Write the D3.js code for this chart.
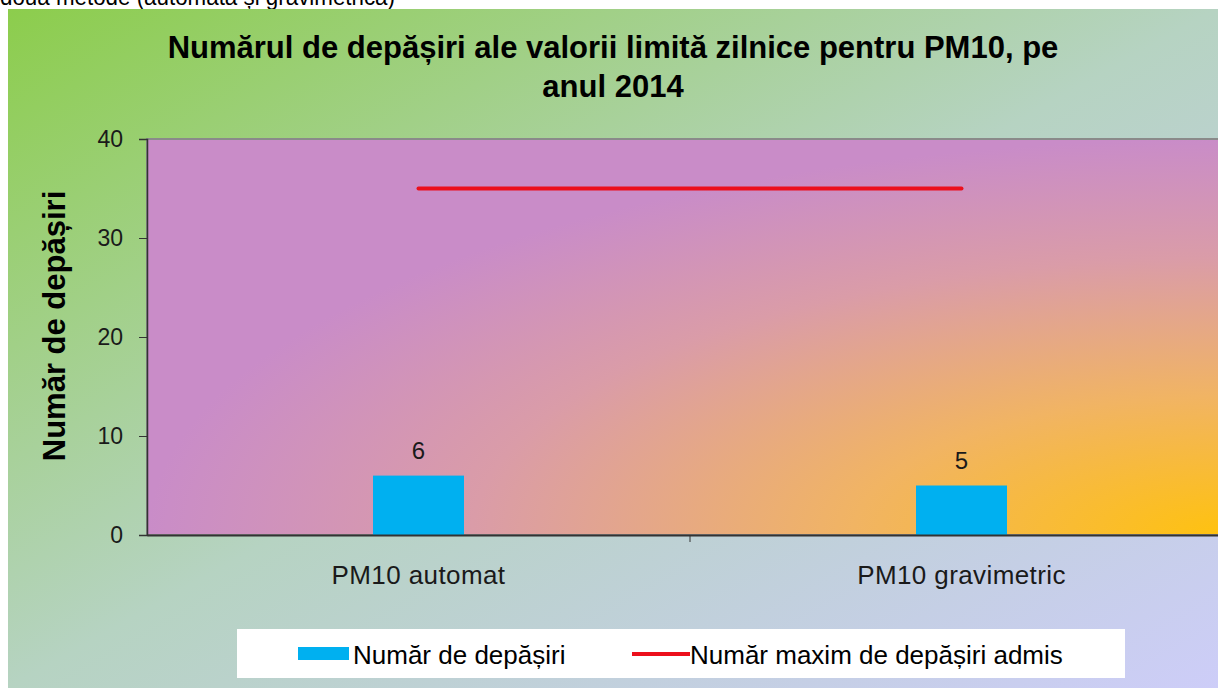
<!DOCTYPE html>
<html>
<head>
<meta charset="utf-8">
<script src="https://cdn.jsdelivr.net/npm/d3@7"></script>
<style>
  body { margin: 0; background: #fff; }
  svg { display: block; font-family: "Liberation Sans", Arial, sans-serif; }
</style>
</head>
<body>
<svg id="chart" width="1218" height="688"></svg>
<script>
// data
var categories = ["PM10 automat", "PM10 gravimetric"];
var exceedances = [6, 5];
var maxAllowed = [35, 35];
var yTicks = [0, 10, 20, 30, 40];

var svg = d3.select("#chart"),
    width = +svg.attr("width"),
    height = +svg.attr("height");

var margin = {top: 139, left: 147, bottom: 535, right: 1233};
var font = "Liberation Sans, Arial, sans-serif";

var defs = svg.append("defs");

var bgGrad = defs.append("linearGradient")
    .attr("id", "bgGrad")
    .attr("x1", 0).attr("y1", 0).attr("x2", 1).attr("y2", 1);
bgGrad.append("stop").attr("offset", 0).attr("stop-color", "#8ccd4c");
bgGrad.append("stop").attr("offset", 0.5).attr("stop-color", "#b6d3c2");
bgGrad.append("stop").attr("offset", 1).attr("stop-color", "#cdcdf8");

var plotGrad = defs.append("radialGradient")
    .attr("id", "plotGrad")
    .attr("cx", 1).attr("cy", 1).attr("r", 1)
    .attr("fx", 1).attr("fy", 1);
plotGrad.append("stop").attr("offset", 0).attr("stop-color", "#ffc20e");
plotGrad.append("stop").attr("offset", 0.35).attr("stop-color", "#f1b463");
plotGrad.append("stop").attr("offset", 0.7).attr("stop-color", "#da9ca8");
plotGrad.append("stop").attr("offset", 1).attr("stop-color", "#c98cc8");

// cropped caption from the document above the chart
svg.append("text")
    .attr("x", 0)
    .attr("y", 5)
    .attr("font-size", 24)
    .attr("fill", "#000")
    .attr("textLength", 395)
    .attr("lengthAdjust", "spacingAndGlyphs")
    .text("două metode  (automată și gravimetrică)");

// chart background
svg.append("rect")
    .attr("x", 8).attr("y", 9)
    .attr("width", width - 8).attr("height", height - 9)
    .attr("fill", "url(#bgGrad)");

var x = d3.scaleBand()
    .domain(categories)
    .range([margin.left, margin.right]);

var y = d3.scaleLinear()
    .domain([0, 40])
    .range([margin.bottom, margin.top]);

// plot area
svg.append("rect")
    .attr("x", margin.left).attr("y", margin.top)
    .attr("width", margin.right - margin.left)
    .attr("height", margin.bottom - margin.top)
    .attr("fill", "url(#plotGrad)")
    .attr("stroke", "#8a8a8a")
    .attr("stroke-width", 2);

// bars
var barW = 91;
svg.append("g")
    .selectAll("rect")
    .data(exceedances)
    .enter().append("rect")
    .attr("x", function(d, i) { return x(categories[i]) + x.bandwidth() / 2 - barW / 2; })
    .attr("y", function(d) { return y(d); })
    .attr("width", barW)
    .attr("height", function(d) { return y(0) - y(d); })
    .attr("fill", "#00b0f0");

// value labels
svg.append("g")
    .selectAll("text")
    .data(exceedances)
    .enter().append("text")
    .attr("x", function(d, i) { return x(categories[i]) + x.bandwidth() / 2; })
    .attr("y", function(d) { return y(d) - 17; })
    .attr("text-anchor", "middle")
    .attr("font-size", 24)
    .attr("fill", "#1a1a1a")
    .text(function(d) { return d; });

// max allowed line
var line = d3.line()
    .x(function(d, i) { return x(categories[i]) + x.bandwidth() / 2; })
    .y(function(d) { return y(d); });

svg.append("path")
    .datum(maxAllowed)
    .attr("d", line)
    .attr("fill", "none")
    .attr("stroke", "#ec0f1c")
    .attr("stroke-width", 4)
    .attr("stroke-linecap", "round");

// y axis
var yAxis = svg.append("g")
    .attr("transform", "translate(" + margin.left + ",0)")
    .call(d3.axisLeft(y).tickValues(yTicks).tickSize(8).tickPadding(16));
yAxis.select(".domain").attr("stroke", "#333").attr("stroke-width", 1.5);
yAxis.selectAll(".tick line").attr("stroke", "#333");
yAxis.selectAll("text")
    .attr("font-size", 23)
    .attr("font-family", font)
    .attr("fill", "#1a1a1a");

// x axis
var xAxis = svg.append("g")
    .attr("transform", "translate(0," + margin.bottom + ")")
    .call(d3.axisBottom(x).tickSize(0).tickPadding(31));
xAxis.select(".domain").attr("stroke", "#333").attr("stroke-width", 2);
xAxis.selectAll("text")
    .attr("font-size", 26)
    .attr("font-family", font)
    .attr("fill", "#1a1a1a")
    .attr("letter-spacing", 0.4);
// category separator ticks
svg.append("g")
    .selectAll("line")
    .data(categories.slice(1))
    .enter().append("line")
    .attr("x1", function(d) { return x(d); })
    .attr("x2", function(d) { return x(d); })
    .attr("y1", margin.bottom)
    .attr("y2", margin.bottom + 7)
    .attr("stroke", "#333");

// y axis title
svg.append("text")
    .attr("transform", "translate(65,326) rotate(-90)")
    .attr("text-anchor", "middle")
    .attr("font-size", 31)
    .attr("font-weight", "bold")
    .attr("fill", "#000")
    .text("Număr de depășiri");

// title
var title = svg.append("text")
    .attr("text-anchor", "middle")
    .attr("font-size", 31)
    .attr("font-weight", "bold")
    .attr("fill", "#000");
title.append("tspan").attr("x", 613).attr("y", 58)
    .text("Numărul de depășiri ale valorii limită zilnice pentru PM10, pe");
title.append("tspan").attr("x", 613).attr("y", 97)
    .text("anul 2014");

// legend
var legend = svg.append("g");
legend.append("rect")
    .attr("x", 237).attr("y", 629)
    .attr("width", 888).attr("height", 49)
    .attr("fill", "#fff");
legend.append("rect")
    .attr("x", 298).attr("y", 647)
    .attr("width", 51).attr("height", 13)
    .attr("fill", "#00b0f0");
legend.append("text")
    .attr("x", 353).attr("y", 664)
    .attr("font-size", 26)
    .attr("fill", "#000")
    .text("Număr de depășiri");
legend.append("line")
    .attr("x1", 632).attr("x2", 690)
    .attr("y1", 654).attr("y2", 654)
    .attr("stroke", "#ec0f1c")
    .attr("stroke-width", 4);
legend.append("text")
    .attr("x", 690).attr("y", 664)
    .attr("font-size", 26)
    .attr("fill", "#000")
    .text("Număr maxim de depășiri admis");
</script>
</body>
</html>
